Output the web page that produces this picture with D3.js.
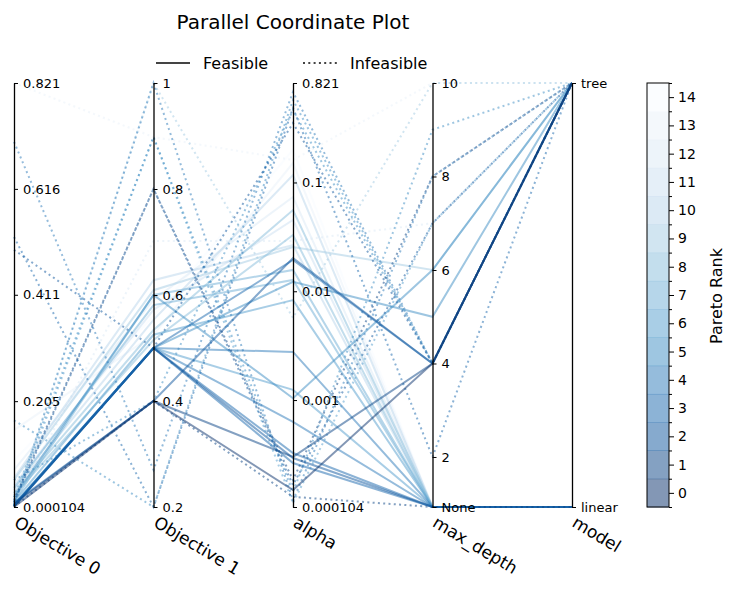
<!DOCTYPE html>
<html>
<head>
<meta charset="utf-8">
<script src="https://cdn.jsdelivr.net/npm/d3@7"></script>
<style>
  body { margin: 0; background: #fff; }
  text { font-family: "DejaVu Sans", sans-serif; }
</style>
</head>
<body>
<svg width="740" height="590"></svg>
<script>
// Axis names
const dims = ["Objective 0", "Objective 1", "alpha", "max_depth", "model"];

// One entry per trial
const objective0 = [
  0.0004, 0.006, 0.008, 0.002, 0.003, 0.019, 0.052, 0.001, 0.002, 0.001, 0.004, 0.003,
  0.005, 0.149, 0.072, 0.043, 0.056, 0.033, 0.027, 0.023, 0.037, 0.010, 0.090, 0.012,
  0.004, 0.008, 0.0136, 0.0097, 0.707, 0.523, 0.498, 0.002, 0.019, 0.168, 0.004, 0.052,
  0.821, 0.001
];
const objective1 = [
  0.4, 0.4, 0.4, 0.5, 0.5, 0.6, 0.609, 0.5, 0.5, 0.5, 0.5, 0.5,
  0.5, 0.525, 0.591, 0.572, 0.628, 0.553, 0.534, 0.515, 0.581, 0.525, 0.56, 0.6,
  1.0, 0.898, 0.8, 0.8, 0.27, 0.2, 0.5, 1.0, 0.898, 0.2, 0.702, 0.4,
  0.898, 0.4
];
const alpha = [
  0.000149, 0.0003, 0.0202, 0.0194, 0.0122, 0.00104, 0.0255, 0.00277, 0.000326, 0.000293, 0.000264, 0.00063,
  0.00124, 0.151, 0.0735, 0.0452, 0.0266, 0.117, 0.0558, 0.0329, 0.0127, 0.0083, 0.2, 0.0157,
  0.0057, 0.000143, 0.000184, 0.000166, 0.678, 0.483, 0.352, 0.00012, 0.000113, 0.573, 0.029, 0.464,
  0.161, 0.000129
];
const maxDepth = [
  4, 4, 4, 4, 5, 6, 6, null, null, null, null, null,
  null, null, null, null, null, null, null, null, null, null, null, null,
  10, 9, 8, 7, 4, 2, 4, 8, 7, 4, 7, 4,
  10, null
];
const model = [
  "tree", "tree", "tree", "tree", "tree", "tree", "tree", "linear", "linear", "linear", "linear", "linear",
  "linear", "linear", "linear", "linear", "linear", "linear", "linear", "linear", "linear", "linear", "linear", "linear",
  "tree", "tree", "tree", "tree", "tree", "tree", "tree", "tree", "tree", "tree", "tree", "tree",
  "tree", "linear"
];
const paretoRank = [
  0, 1, 2, 3, 5, 5, 9, 4, 3, 2, 3, 4,
  6, 13, 12, 11, 10, 10, 8, 8, 7, 6, 14, 7,
  9, 5, 1, 2, 4, 3, 2, 4, 6, 5, 12, 5,
  13, 1
];
const feasible = [
  1, 1, 1, 1, 1, 1, 1, 1, 1, 1, 1, 1,
  1, 1, 1, 1, 1, 1, 1, 1, 1, 1, 1, 1,
  0, 0, 0, 0, 0, 0, 0, 0, 0, 0, 0, 0,
  0, 0
];

// Tick labels
const obj0Ticks = [0.000104, 0.205, 0.411, 0.616, 0.821];
const obj1Ticks = [0.2, 0.4, 0.6, 0.8, 1];
const alphaTicks = [0.000104, 0.001, 0.01, 0.1, 0.821];
const depthTicks = [2, 4, 6, 8, 10];
const modelCats = ["linear", "tree"];
const rankTicks = d3.range(0, 15);

const svg = d3.select("svg");
const yTop = 83, yBottom = 507;

const x = d3.scalePoint().domain(dims).range([14, 572]);

const noneDepth = 0.93; // where "None" sits on max_depth
const scales = {
  "Objective 0": d3.scaleLinear().domain([0.000104, 0.821]).range([yBottom, yTop]),
  "Objective 1": d3.scaleLinear().domain([0.2, 1]).range([yBottom, yTop]),
  "alpha": d3.scaleLog().domain([0.000104, 0.821]).range([yBottom, yTop]),
  "max_depth": d3.scaleLinear().domain([noneDepth, 10]).range([yBottom, yTop]),
  "model": d3.scalePoint().domain(modelCats).range([yBottom, yTop])
};

const color = r => d3.interpolateBlues(1 - r / 14);

// build rows
const rows = objective0.map((v, i) => ({
  "Objective 0": v,
  "Objective 1": objective1[i],
  "alpha": alpha[i],
  "max_depth": maxDepth[i] == null ? noneDepth : maxDepth[i],
  "model": model[i],
  rank: paretoRank[i],
  feasible: feasible[i]
}));
rows.sort((a, b) => b.rank - a.rank);

const line = d3.line();
svg.append("g")
  .selectAll("path")
  .data(rows)
  .join("path")
    .attr("d", d => line(dims.map(k => [x(k), scales[k](d[k])])))
    .attr("fill", "none")
    .attr("stroke", d => color(d.rank))
    .attr("stroke-opacity", 0.5)
    .attr("stroke-width", 2)
    .attr("stroke-dasharray", d => d.feasible ? null : "2,3.3");

// axes
const fmt = {
  "Objective 0": d => d3.format("")(d),
  "Objective 1": d => d3.format("")(d),
  "alpha": d => d3.format("")(d),
  "max_depth": d => d < 1 ? "None" : d,
  "model": d => d
};
const tickVals = {
  "Objective 0": obj0Ticks,
  "Objective 1": obj1Ticks,
  "alpha": alphaTicks,
  "max_depth": [noneDepth].concat(depthTicks),
  "model": modelCats
};
dims.forEach(k => {
  const g = svg.append("g")
    .attr("transform", `translate(${x(k)},0)`)
    .call(d3.axisRight(scales[k]).tickValues(tickVals[k]).tickFormat(fmt[k]).tickSize(4).tickSizeOuter(0).tickPadding(5));
  g.select(".domain").attr("stroke", "#000").attr("stroke-width", 1.3);
  g.selectAll(".tick line").attr("stroke", "#000");
  g.selectAll(".tick text").attr("font-family", "DejaVu Sans").attr("font-size", 13).attr("fill", "#000");
  svg.append("text")
    .attr("transform", `translate(${x(k) + 6},${yBottom + 7}) rotate(31)`)
    .attr("dy", "0.8em")
    .attr("font-size", 17)
    .text(k);
});

// title
svg.append("text")
  .attr("x", 293).attr("y", 29)
  .attr("text-anchor", "middle")
  .attr("font-size", 20)
  .text("Parallel Coordinate Plot");

// legend
const legend = svg.append("g").attr("transform", "translate(156,63)");
[["Feasible", null, 0], ["Infeasible", "2,3.3", 147]].forEach(([label, dash, dx]) => {
  legend.append("line")
    .attr("x1", dx).attr("x2", dx + 34)
    .attr("stroke", "#444").attr("stroke-width", 2)
    .attr("stroke-dasharray", dash);
  legend.append("text")
    .attr("x", dx + 47).attr("dy", "0.35em")
    .attr("font-size", 16)
    .text(label);
});

// colorbar
const cb = d3.scaleLinear().domain([-0.5, 14.5]).range([yBottom, yTop]);
const cbx = 647, cbw = 22;
svg.append("g")
  .selectAll("rect")
  .data(rankTicks)
  .join("rect")
    .attr("x", cbx)
    .attr("y", d => cb(d + 0.5))
    .attr("width", cbw)
    .attr("height", d => cb(d - 0.5) - cb(d + 0.5) + 0.5)
    .attr("fill", d => color(d))
    .attr("fill-opacity", 0.5);
svg.append("rect")
  .attr("x", cbx).attr("y", yTop)
  .attr("width", cbw).attr("height", yBottom - yTop)
  .attr("fill", "none").attr("stroke", "#000").attr("stroke-width", 1);
const cbAxis = svg.append("g")
  .attr("transform", `translate(${cbx + cbw},0)`)
  .call(d3.axisRight(cb).tickValues(rankTicks).tickSize(5).tickSizeOuter(0).tickPadding(4));
cbAxis.select(".domain").remove();
cbAxis.selectAll(".tick text").attr("font-family", "DejaVu Sans").attr("font-size", 14).attr("fill", "#000");
svg.append("g")
  .attr("transform", `translate(${cbx + cbw},0)`)
  .call(d3.axisRight(cb).tickValues(d3.range(-0.5, 15, 1)).tickSize(3).tickFormat(""))
  .select(".domain").remove();
svg.append("text")
  .attr("transform", `translate(722,296) rotate(-90)`)
  .attr("text-anchor", "middle")
  .attr("font-size", 16)
  .text("Pareto Rank");
</script>
</body>
</html>
